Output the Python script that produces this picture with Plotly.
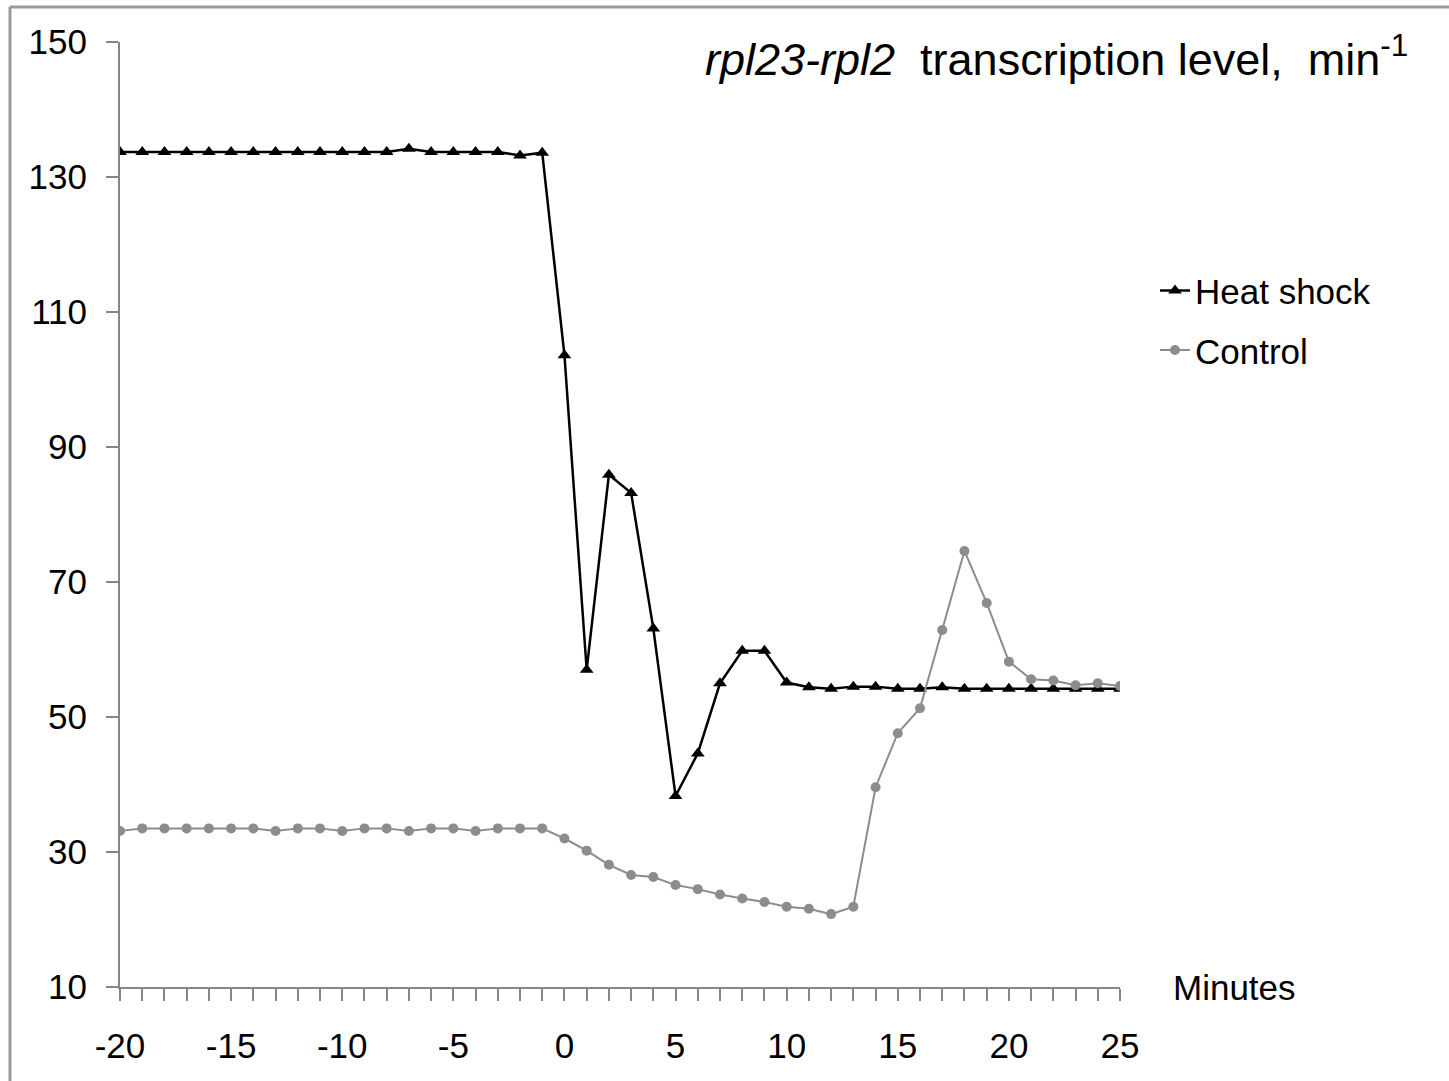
import plotly.graph_objects as go

# Time after heat shock onset, minutes
minutes = list(range(-20, 26))

# Transcription level (min^-1) of the rpl23-rpl2 operon
heat_shock = [
    133.7, 133.7, 133.7, 133.7, 133.7, 133.7, 133.7, 133.7, 133.7, 133.7,
    133.7, 133.7, 133.7, 134.2, 133.7, 133.7, 133.7, 133.7, 133.2, 133.6,
    103.6, 57.0, 85.9, 83.2, 63.1, 38.3, 44.6, 55.0, 59.8, 59.8,
    55.1, 54.4, 54.2, 54.5, 54.5, 54.2, 54.2, 54.4, 54.2, 54.2,
    54.2, 54.2, 54.2, 54.2, 54.2, 54.2,
]
control = [
    33.1, 33.5, 33.5, 33.5, 33.5, 33.5, 33.5, 33.1, 33.5, 33.5,
    33.1, 33.5, 33.5, 33.1, 33.5, 33.5, 33.1, 33.5, 33.5, 33.5,
    32.0, 30.2, 28.1, 26.6, 26.3, 25.1, 24.5, 23.7, 23.1, 22.6,
    21.9, 21.6, 20.8, 21.9, 39.6, 47.6, 51.3, 62.9, 74.6, 66.9,
    58.2, 55.6, 55.4, 54.7, 55.0, 54.6,
]

y_ticks = [10, 30, 50, 70, 90, 110, 130, 150]
x_ticks = [-20, -15, -10, -5, 0, 5, 10, 15, 20, 25]

FONT = "Liberation Sans, Arial, sans-serif"
AXIS_GREY = "#868686"

fig = go.Figure()
fig.add_trace(go.Scatter(
    x=minutes, y=heat_shock, name="Heat shock", mode="lines+markers",
    line=dict(color="#000000", width=2.5),
    marker=dict(symbol="triangle-up", size=12, color="#000000"),
    legendgroup="a",
))
fig.add_trace(go.Scatter(
    x=minutes, y=control, name="Control", mode="lines+markers",
    line=dict(color="#8c8c8c", width=2),
    marker=dict(symbol="circle", size=10, color="#8c8c8c"),
    legendgroup="b",
))

fig.update_layout(
    width=1449, height=1081,
    margin=dict(l=120, r=329, t=42, b=94),
    paper_bgcolor="white", plot_bgcolor="white",
    font=dict(family=FONT, size=35, color="#000000"),
    showlegend=True,
    legend=dict(
        x=1.035, y=0.768, xanchor="left", yanchor="top",
        bgcolor="rgba(0,0,0,0)", font=dict(size=35),
        tracegroupgap=11, itemwidth=30,
    ),
    xaxis=dict(
        range=[-20, 25], tickvals=x_ticks, ticktext=[str(v) for v in x_ticks],
        showgrid=False, zeroline=False,
        showline=True, linecolor=AXIS_GREY, linewidth=2,
        ticks="outside", ticklen=12, tickwidth=2, tickcolor=AXIS_GREY,
        minor=dict(dtick=1, tick0=0, ticks="outside", ticklen=12,
                   tickwidth=2, tickcolor=AXIS_GREY, showgrid=False),
        ticklabelstandoff=15,
        tickfont=dict(size=35),
    ),
    yaxis=dict(
        range=[10, 150], tickvals=y_ticks,
        showgrid=False, zeroline=False,
        showline=True, linecolor=AXIS_GREY, linewidth=2,
        ticks="outside", ticklen=12, tickwidth=2, tickcolor=AXIS_GREY,
        ticklabelstandoff=12,
        tickfont=dict(size=35),
    ),
)

# Title in the upper right corner of the plot
fig.add_annotation(
    x=1.29, y=0.985, xref="paper", yref="paper",
    xanchor="right", yanchor="middle", showarrow=False,
    text="<i>rpl23-rpl2</i>  transcription level,  min<sup>-1</sup>",
    font=dict(size=45),
)
# Axis name placed at the end of the time axis
fig.add_annotation(
    x=1.051, y=0.0, xref="paper", yref="paper",
    xanchor="left", yanchor="middle", showarrow=False,
    text="Minutes", font=dict(size=35),
)

# Grey frame along the top and left edges of the figure
fig.add_shape(type="line", xref="paper", yref="paper",
              x0=-0.11, x1=1.34, y0=1.037, y1=1.037,
              line=dict(color="#9a9a9a", width=3))
fig.add_shape(type="line", xref="paper", yref="paper",
              x0=-0.11, x1=-0.11, y0=1.037, y1=-0.1,
              line=dict(color="#9a9a9a", width=3))

fig.write_html("out.html")
